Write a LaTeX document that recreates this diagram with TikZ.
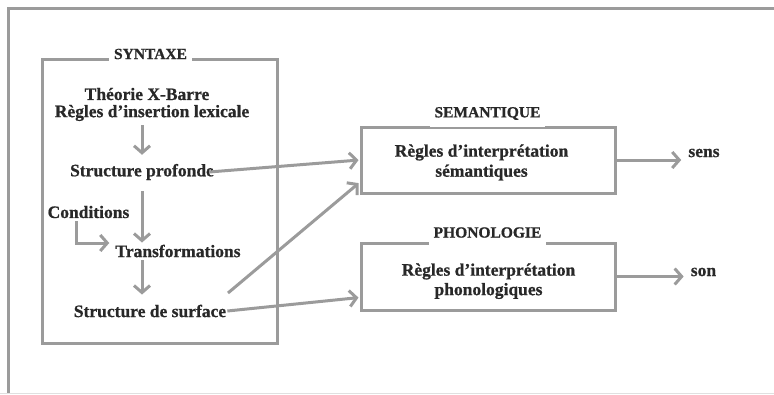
\documentclass[tikz,border=0pt]{standalone}
\usepackage{fontspec}
\setmainfont{Liberation Serif}[BoldFeatures={FakeBold=0.8}]
\usetikzlibrary{arrows.meta}
\definecolor{linegray}{RGB}{155,155,155}
\definecolor{txt}{RGB}{40,40,40}
\tikzset{
  lbl/.style={font=\bfseries\fontsize{17.5}{20}\selectfont, text=txt, inner sep=1pt},
  ttl/.style={font=\bfseries\fontsize{15.5}{18}\selectfont, text=txt, fill=white, inner xsep=5pt, inner ysep=7pt},
  box/.style={draw=linegray, line width=3pt, inner sep=0pt},
  arr/.style={draw=linegray, line width=3pt, -{Straight Barb[length=7pt,width=16pt]}},
}
\begin{document}
\begin{tikzpicture}[x=1pt,y=-1pt]
\useasboundingbox (0,0) rectangle (774,394);
\draw[linegray, line width=3pt] (8,394) -- (8,8) -- (774,8);
\draw[black!12, line width=1pt] (0,393) -- (774,393);

% boxes
\node[box, minimum width=235pt, minimum height=284pt] (syn) at (159.5,201.5) {};
\node[box, minimum width=254pt, minimum height=66pt] (sem) at (488,160) {};
\node[box, minimum width=254pt, minimum height=67pt] (phon) at (488,276.5) {};

% titles
\node[ttl] (synt) at (150.5,54) {SYNTAXE};
\node[ttl] (semt) at (487.5,113.5) {SEMANTIQUE};
\node[ttl] (phont) at (487.5,232.5) {PHONOLOGIE};

% syntax content
\node[lbl] (theo) at (147,94) {Théorie X-Barre};
\node[lbl] (regl) at (152,113) {Règles d’insertion lexicale};
\node[lbl] (sprof) at (142,172) {Structure profonde};
\node[lbl] (cond) at (88.5,212) {Conditions};
\node[lbl] (trans) at (178,251) {Transformations};
\node[lbl] (ssurf) at (150,311) {Structure de surface};

% semantics / phonology content
\node[lbl] (semr) at (481.5,152.5) {Règles d’interprétation};
\node[lbl] (sems) at (481.5,172.5) {sémantiques};
\node[lbl] (phonr) at (488.5,271.5) {Règles d’interprétation};
\node[lbl] (phons) at (488.5,291) {phonologiques};
\node[lbl] (sens) at (704,153) {sens};
\node[lbl] (son) at (703.5,272) {son};

\coordinate (diag) at (228,293);

% arrows inside syntax
\draw[arr, shorten <=3pt, shorten >=8pt] (regl.south -| sprof.north) -- (sprof.north);
\draw[arr, shorten <=10pt, shorten >=1pt] (sprof.south) -- (sprof.south |- trans.north);
\draw[arr, shorten <=2pt] ([xshift=-12.5pt]cond.south) |- ([xshift=-5pt,yshift=8pt]trans.west);
\draw[arr, shorten <=2pt, shorten >=9pt] (trans.south -| sprof.south) -- (sprof.south |- ssurf.north);

% outgoing arrows
\draw[arr, shorten >=1pt] ([xshift=-6pt]sprof.east) -- (sem.west);
\draw[arr, shorten >=1pt] (diag) -- ([yshift=12pt]sem.south west);
\draw[arr, shorten >=1pt] (ssurf.east) -- ([yshift=14pt]phon.south west);
\draw[arr, shorten >=6pt] (sem.east) -- (sem.east -| sens.west);
\draw[arr, shorten >=6pt] (phon.east) -- (phon.east -| son.west);
\end{tikzpicture}
\end{document}
